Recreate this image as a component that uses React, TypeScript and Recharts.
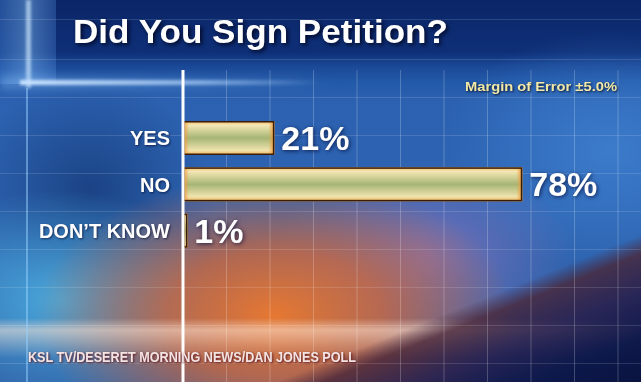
import React from 'react';
import { BarChart, Bar, XAxis, YAxis, CartesianGrid, LabelList } from 'recharts';

const categories = ['YES', 'NO', 'DON\u2019T KNOW'];
const values = [21, 78, 1];
const valueLabels = ['21%', '78%', '1%'];
const xTicks = [0, 10, 20, 30, 40, 50, 60, 70, 80, 90, 100];
const titleText = 'Did You Sign Petition?';
const marginText = 'Margin of Error \u00B15.0%';
const sourceText = 'KSL TV/DESERET MORNING NEWS/DAN JONES POLL';

const data = categories.map((c, i) => ({ category: c, value: values[i], label: valueLabels[i] }));

const BarShape = (props: any) => {
  const { x, y, width, height } = props;
  if (!width || width <= 0) return null;
  const edge = Math.min(6, width / 2);
  return (
    <g>
      <rect x={x} y={y} width={width} height={height} fill="url(#barV)" />
      <rect x={x} y={y} width={edge} height={height} fill="url(#edgeL)" />
      <rect x={x + width - edge} y={y} width={edge} height={height} fill="url(#edgeR)" />
      <rect x={x + 0.75} y={y + 0.75} width={Math.max(0, width - 1.5)} height={height - 1.5} fill="none" stroke="#3a1d04" strokeWidth={1.5} />
    </g>
  );
};

const Tick = (props: any) => {
  const { x, y, payload } = props;
  return (
    <text x={x} y={y} dy={7} textAnchor="end" fill="#ffffff" fontSize={20} fontWeight={700}
      fontFamily="'Liberation Sans', Arial, sans-serif" style={{ filter: 'drop-shadow(1px 1px 1px rgba(0,0,30,0.6))' }}>
      {payload.value}
    </text>
  );
};

const ValueLabel = (props: any) => {
  const { x, y, width, height, value } = props;
  return (
    <text x={x + width + 7} y={y + height / 2} dy={12} textAnchor="start" fill="#ffffff" fontSize={34} fontWeight={700}
      fontFamily="'Liberation Sans', Arial, sans-serif" style={{ filter: 'drop-shadow(1px 1px 2px rgba(0,0,40,0.7))' }}>
      {value}
    </text>
  );
};

const bg = [
  // bottom-right dark diagonal
  'linear-gradient(158deg, rgba(0,0,0,0) 0%, rgba(0,0,0,0) 77%, rgba(75,38,55,0.8) 80%, rgba(40,30,75,0.88) 86%, rgba(12,22,72,0.96) 93%, rgba(8,18,62,0.98) 100%)',
  // bright peach band near bottom
  'linear-gradient(180deg, rgba(255,230,210,0) 318px, rgba(255,232,215,0.55) 330px, rgba(255,225,205,0.25) 345px, rgba(255,225,205,0) 358px)',
  // orange glow
  'radial-gradient(ellipse 240px 140px at 275px 315px, rgba(230,120,50,1) 0%, rgba(205,105,62,0.82) 45%, rgba(165,90,100,0) 100%)',
  // purple
  'radial-gradient(ellipse 150px 95px at 425px 255px, rgba(180,125,190,0.55) 0%, rgba(180,125,190,0) 100%)',
  // cyan bottom left
  'radial-gradient(ellipse 160px 110px at 60px 300px, rgba(80,185,230,0.8) 0%, rgba(80,185,230,0) 100%)',
  // dark left middle
  'radial-gradient(ellipse 120px 110px at 90px 190px, rgba(12,40,95,0.55) 0%, rgba(12,40,95,0) 100%)',
  // bright right
  'radial-gradient(ellipse 170px 120px at 610px 150px, rgba(70,140,220,0.6) 0%, rgba(70,140,220,0) 100%)',
  // top band
  'linear-gradient(180deg, #0b2668 0px, #0e2f77 52px, #1a4896 66px, #2259a8 82px, rgba(40,95,175,0) 100px)',
  // base
  'linear-gradient(180deg, #2a5eae 0px, #2d64b2 200px, #2f5fa6 382px)',
].join(',');

export default function App() {
  return (
    <div style={{ position: 'absolute', left: 0, top: 0, width: 641, height: 382, overflow: 'hidden', background: bg }}>
      {/* left light frame */}
      <div style={{ position: 'absolute', left: 0, top: 0, width: 56, height: 84, background: 'linear-gradient(90deg, rgba(60,120,200,0.5), rgba(120,180,240,0.5) 50%, rgba(80,140,220,0.3))' }} />
      <div style={{ position: 'absolute', left: 26, top: 0, width: 5, height: 88, background: 'rgba(210,235,255,0.65)', filter: 'blur(1.5px)' }} />
      <div style={{ position: 'absolute', left: 26, top: 88, width: 2, height: 294, background: 'rgba(150,210,255,0.5)' }} />
      {/* horizontal streaks */}
      <div style={{ position: 'absolute', left: 20, top: 80, width: 300, height: 5, background: 'linear-gradient(90deg, rgba(225,240,255,0.95), rgba(190,220,255,0.6) 60%, rgba(190,220,255,0))', filter: 'blur(1.5px)' }} />
      <div style={{ position: 'absolute', left: 0, top: 76, width: 340, height: 14, background: 'linear-gradient(90deg, rgba(150,200,255,0.35), rgba(150,200,255,0))', filter: 'blur(4px)' }} />
      {/* faint horizontal grid */}
      <div style={{ position: 'absolute', left: 0, top: 0, width: 641, height: 382, backgroundImage: 'repeating-linear-gradient(180deg, rgba(255,255,255,0) 0px, rgba(255,255,255,0) 37px, rgba(255,255,255,0.13) 37px, rgba(255,255,255,0.13) 38px)', backgroundPosition: '0 22px' }} />
      <BarChart width={641} height={382} data={data} layout="vertical"
        margin={{ top: 70, right: 23, left: 0, bottom: 0 }} style={{ position: 'absolute', left: 0, top: 0 }}>
        <defs>
          <linearGradient id="barV" x1="0" y1="0" x2="0" y2="1">
            <stop offset="0" stopColor="#f6b860" />
            <stop offset="0.12" stopColor="#f4e7b4" />
            <stop offset="0.5" stopColor="#a6b574" />
            <stop offset="0.86" stopColor="#efe3ae" />
            <stop offset="1" stopColor="#f3b258" />
          </linearGradient>
          <linearGradient id="edgeL" x1="0" y1="0" x2="1" y2="0">
            <stop offset="0" stopColor="#f09a3a" stopOpacity={1} />
            <stop offset="1" stopColor="#f09a3a" stopOpacity={0} />
          </linearGradient>
          <linearGradient id="edgeR" x1="0" y1="0" x2="1" y2="0">
            <stop offset="0" stopColor="#f09a3a" stopOpacity={0} />
            <stop offset="1" stopColor="#f09a3a" stopOpacity={1} />
          </linearGradient>
        </defs>
        <CartesianGrid horizontal={false} stroke="rgba(255,255,255,0.22)" strokeWidth={1} />
        <XAxis type="number" domain={[0, 100]} ticks={xTicks} hide />
        <YAxis type="category" dataKey="category" width={183} tickLine={false} tickSize={0} tickMargin={13}
          axisLine={{ stroke: '#ffffff', strokeWidth: 3 }} tick={<Tick />} padding={{ top: 45, bottom: 128 }} interval={0} />
        <Bar dataKey="value" barSize={34} shape={<BarShape />} isAnimationActive={false}>
          <LabelList dataKey="label" content={<ValueLabel />} />
        </Bar>
      </BarChart>
      <svg width={641} height={382} style={{ position: 'absolute', left: 0, top: 0, pointerEvents: 'none' }}>
        <text x={73} y={43} fontSize={33} fontWeight={700} fill="#ffffff" textLength={375} lengthAdjust="spacingAndGlyphs"
          fontFamily="'Liberation Sans', Arial, sans-serif" style={{ filter: 'drop-shadow(2px 2px 2px rgba(0,0,20,0.8))' }}>{titleText}</text>
        <text x={465} y={91} fontSize={13} fontWeight={700} fill="#f3e9a6" textLength={152} lengthAdjust="spacingAndGlyphs"
          fontFamily="'Liberation Sans', Arial, sans-serif" style={{ filter: 'drop-shadow(1px 1px 1px rgba(0,0,20,0.8))' }}>{marginText}</text>
        <text x={28} y={362} fontSize={15} fontWeight={700} fill="#f4e4e4" textLength={328} lengthAdjust="spacingAndGlyphs"
          fontFamily="'Liberation Sans', Arial, sans-serif" style={{ filter: 'drop-shadow(1px 1px 1px rgba(90,20,30,0.9))' }}>{sourceText}</text>
      </svg>
    </div>
  );
}
